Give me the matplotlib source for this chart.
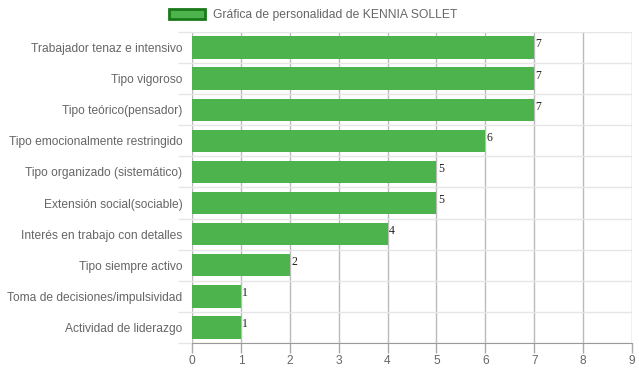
import matplotlib
matplotlib.use("Agg")
import matplotlib.pyplot as plt
from matplotlib.patches import Patch
import numpy as np

categories = [
    "Trabajador tenaz e intensivo",
    "Tipo vigoroso",
    "Tipo teórico(pensador)",
    "Tipo emocionalmente restringido",
    "Tipo organizado (sistemático)",
    "Extensión social(sociable)",
    "Interés en trabajo con detalles",
    "Tipo siempre activo",
    "Toma de decisiones/impulsividad",
    "Actividad de liderazgo",
]
values = [7, 7, 7, 6, 5, 5, 4, 2, 1, 1]
xticks = list(range(0, 10))
legend_label = "Gráfica de personalidad de KENNIA SOLLET"

plt.rcParams['font.family'] = ['Liberation Sans', 'DejaVu Sans']

fig = plt.figure(figsize=(6.39, 3.72), dpi=100)
ax = fig.add_axes([192/639, 29/372, 440/639, 311/372])

y = np.arange(len(categories))
bar_color = '#4db44d'
ax.barh(y, values, height=0.72, color=bar_color, zorder=3)
ax.set_ylim(len(categories) - 0.5, -0.5)
ax.set_xlim(0, 9)

ax.set_yticks(y)
ax.set_yticklabels(categories, fontsize=8.65, color='#666666')
ax.set_yticks(np.arange(-0.5, len(categories), 1), minor=True)
ax.tick_params(axis='y', which='major', length=0, pad=7)
ax.tick_params(axis='y', which='minor', length=10, color='#e6e6e6', width=1)
ax.grid(axis='y', which='minor', color='#e6e6e6', linewidth=1, zorder=1)

ax.set_xticks(xticks)
ax.set_xticklabels([str(t) for t in xticks], fontsize=8.6, color='#666666')
ax.tick_params(axis='x', which='major', length=7, color='#aaaaaa', width=1, pad=2)
ax.grid(axis='x', which='major', color='#aaaaaa', linewidth=1, zorder=4, alpha=0.8)

for s in ['top', 'right', 'left']:
    ax.spines[s].set_visible(False)
ax.spines['bottom'].set_color('#999999')

for yi, v in zip(y, values):
    ax.text(v + 0.03, yi - 0.1, str(v), fontsize=8.5, family=['Liberation Serif', 'DejaVu Serif'],
            color='#222222', va='center', ha='left', zorder=5)

handle = Patch(facecolor=bar_color, edgecolor='#1a7a1a', linewidth=2)
fig.legend([handle], [legend_label], loc='center', bbox_to_anchor=(0.49, 0.96),
           frameon=False, fontsize=8.7, labelcolor='#666666', handlelength=3.0, handleheight=0.95,
           handletextpad=0.6)

fig.savefig('out.png', dpi=100)
